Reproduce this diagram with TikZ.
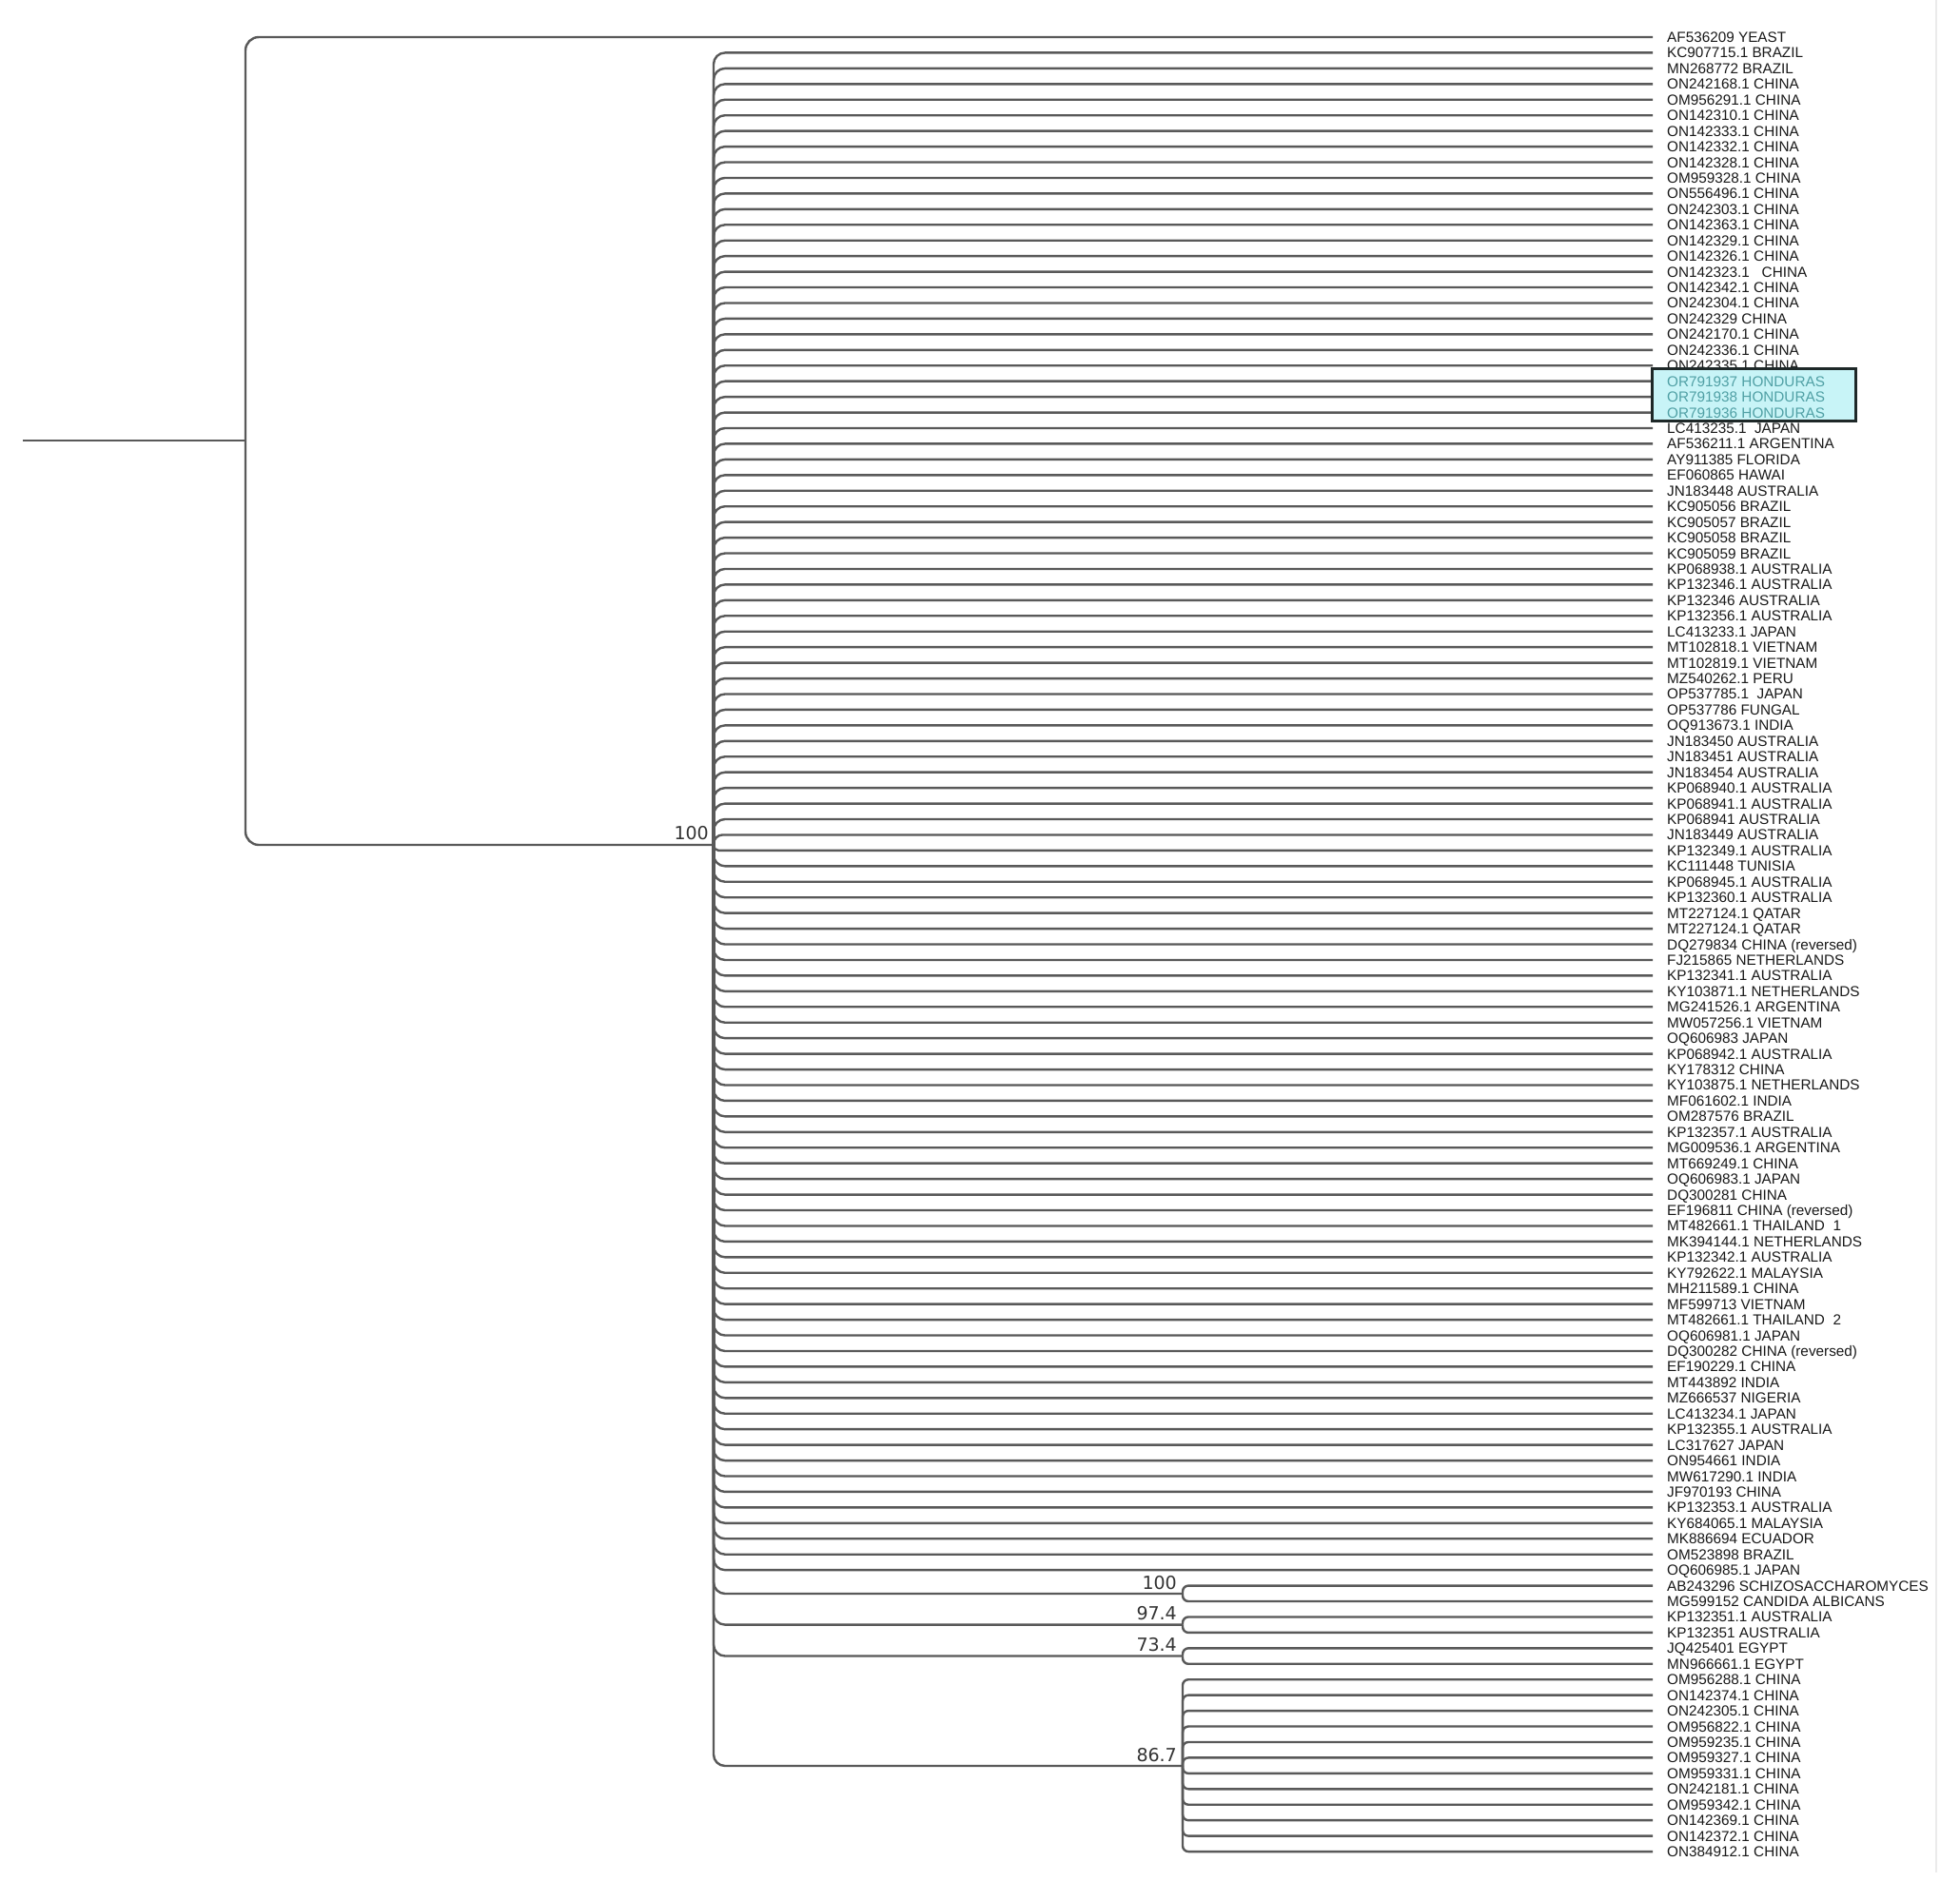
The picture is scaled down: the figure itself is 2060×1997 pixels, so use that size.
\documentclass[tikz,border=0pt]{standalone}
\usepackage{fontspec}
\setmainfont{Liberation Sans}
\newfontfamily\nodefont{DejaVu Sans}
\definecolor{hlfill}{RGB}{200,244,247}
\definecolor{hltext}{RGB}{80,160,165}
\definecolor{hlborder}{RGB}{30,40,40}
\begin{document}
\begin{tikzpicture}[x=1pt,y=-1pt,
  br/.style={draw=black!65, line width=2.4pt, rounded corners=#1},
  br/.default=12pt,
  leaf/.style={anchor=west, inner xsep=15pt, inner ysep=0pt, text height=11pt, text depth=0pt,
    font=\fontsize{15.3}{15.3}\selectfont, text=black!90},
  blabel/.style={anchor=south east, inner sep=0pt, font=\nodefont\fontsize{19}{19}\selectfont, text=black!80},
  hbox/.style={draw=hlborder, line width=3pt, fill=hlfill, minimum width=214pt, minimum height=55pt, inner sep=0pt}
]
\useasboundingbox (0,0) rectangle (2060,1997);
\fill[white] (0,0) rectangle (2060,1997);
\draw[black!8, line width=2pt] (2035,0) -- (2035,1968);

% leaf labels
\foreach \i/\t in {1/AF536209 YEAST,2/KC907715.1 BRAZIL,3/MN268772 BRAZIL,4/ON242168.1 CHINA,
 5/OM956291.1 CHINA,6/ON142310.1 CHINA,7/ON142333.1 CHINA,8/ON142332.1 CHINA,9/ON142328.1 CHINA,
 10/OM959328.1 CHINA,11/ON556496.1 CHINA,12/ON242303.1 CHINA,13/ON142363.1 CHINA,14/ON142329.1 CHINA,
 15/ON142326.1 CHINA,16/ON142323.1~~~CHINA,17/ON142342.1 CHINA,18/ON242304.1 CHINA,19/ON242329 CHINA,
 20/ON242170.1 CHINA,21/ON242336.1 CHINA,22/ON242335.1 CHINA,
 26/LC413235.1~~JAPAN,27/AF536211.1 ARGENTINA,28/AY911385 FLORIDA,29/EF060865 HAWAI,30/JN183448 AUSTRALIA,
 31/KC905056 BRAZIL,32/KC905057 BRAZIL,33/KC905058 BRAZIL,34/KC905059 BRAZIL,35/KP068938.1 AUSTRALIA,
 36/KP132346.1 AUSTRALIA,37/KP132346 AUSTRALIA,38/KP132356.1 AUSTRALIA,39/LC413233.1 JAPAN,
 40/MT102818.1 VIETNAM,41/MT102819.1 VIETNAM,42/MZ540262.1 PERU,43/OP537785.1~~JAPAN,44/OP537786 FUNGAL,
 45/OQ913673.1 INDIA,46/JN183450 AUSTRALIA,47/JN183451 AUSTRALIA,48/JN183454 AUSTRALIA,
 49/KP068940.1 AUSTRALIA,50/KP068941.1 AUSTRALIA,51/KP068941 AUSTRALIA,52/JN183449 AUSTRALIA,
 53/KP132349.1 AUSTRALIA,54/KC111448 TUNISIA,55/KP068945.1 AUSTRALIA,56/KP132360.1 AUSTRALIA,
 57/MT227124.1 QATAR,58/MT227124.1 QATAR,59/DQ279834 CHINA (reversed),
 60/FJ215865 NETHERLANDS,61/KP132341.1 AUSTRALIA,62/KY103871.1 NETHERLANDS,63/MG241526.1 ARGENTINA,
 64/MW057256.1 VIETNAM,65/OQ606983 JAPAN,66/KP068942.1 AUSTRALIA,67/KY178312 CHINA,
 68/KY103875.1 NETHERLANDS,69/MF061602.1 INDIA,70/OM287576 BRAZIL,71/KP132357.1 AUSTRALIA,
 72/MG009536.1 ARGENTINA,73/MT669249.1 CHINA,74/OQ606983.1 JAPAN,75/DQ300281 CHINA,
 76/EF196811 CHINA (reversed),77/MT482661.1 THAILAND~~1,78/MK394144.1 NETHERLANDS,
 79/KP132342.1 AUSTRALIA,80/KY792622.1 MALAYSIA,81/MH211589.1 CHINA,82/MF599713 VIETNAM,
 83/MT482661.1 THAILAND~~2,84/OQ606981.1 JAPAN,85/DQ300282 CHINA (reversed),
 86/EF190229.1 CHINA,87/MT443892 INDIA,88/MZ666537 NIGERIA,89/LC413234.1 JAPAN,90/KP132355.1 AUSTRALIA,
 91/LC317627 JAPAN,92/ON954661 INDIA,93/MW617290.1 INDIA,94/JF970193 CHINA,95/KP132353.1 AUSTRALIA,
 96/KY684065.1 MALAYSIA,97/MK886694 ECUADOR,98/OM523898 BRAZIL,99/OQ606985.1 JAPAN,
 100/AB243296 SCHIZOSACCHAROMYCES,101/MG599152 CANDIDA ALBICANS,102/KP132351.1 AUSTRALIA,
 103/KP132351 AUSTRALIA,104/JQ425401 EGYPT,105/MN966661.1 EGYPT,106/OM956288.1 CHINA,
 107/ON142374.1 CHINA,108/ON242305.1 CHINA,109/OM956822.1 CHINA,110/OM959235.1 CHINA,
 111/OM959327.1 CHINA,112/OM959331.1 CHINA,113/ON242181.1 CHINA,114/OM959342.1 CHINA,
 115/ON142369.1 CHINA,116/ON142372.1 CHINA,117/ON384912.1 CHINA}{
  \pgfmathsetmacro\yy{39+16.44*(\i-1)}
  \node[leaf] (l\i) at (1737,\yy) {\t};
}
\foreach \i in {23,24,25}{
  \pgfmathsetmacro\yy{39+16.44*(\i-1)}
  \coordinate (l\i) at (1737,\yy);
}

% internal nodes
\coordinate (root) at (24,463);
\coordinate (n0) at (258,463);
\coordinate (n1) at (750,888);
\coordinate (n2) at (1243,1675);
\coordinate (n3) at (1243,1707.6);
\coordinate (n4) at (1243,1740.5);
\coordinate (n5) at (1243,1856);

\draw[br] (root) -- (n0);
\draw[br=14pt] (n0) |- (l1.west);
\draw[br=14pt] (n0) |- (n1);

\foreach \i in {2,...,99}{
  \pgfmathsetmacro\rr{min(12,abs(39+16.44*(\i-1)-888)*0.9)}
  \draw[br=\rr pt] (n1) |- (l\i.west);
}
\foreach \n in {n2,n3,n4,n5}{
  \draw[br] (n1) |- (\n);
}
\foreach \i in {100,101}{\draw[br=6pt] (n2) |- (l\i.west);}
\foreach \i in {102,103}{\draw[br=6pt] (n3) |- (l\i.west);}
\foreach \i in {104,105}{\draw[br=6pt] (n4) |- (l\i.west);}
\foreach \i in {106,...,117}{\draw[br=6pt] (n5) |- (l\i.west);}

% support values
\node[blabel] (s1) at (745,883) {100};
\node[blabel] (s2) at (1237,1671) {100};
\node[blabel] (s3) at (1237,1703) {97.4};
\node[blabel] (s4) at (1237,1736) {73.4};
\node[blabel] (s5) at (1237,1852) {86.7};

% highlighted Honduras samples
\node[hbox] (hl) at (1843,414.5) {};
\node[leaf, text=hltext] (h23) at (l23) {OR791937 HONDURAS};
\node[leaf, text=hltext] (h24) at (l24) {OR791938 HONDURAS};
\node[leaf, text=hltext] (h25) at (l25) {OR791936 HONDURAS};
\end{tikzpicture}
\end{document}
